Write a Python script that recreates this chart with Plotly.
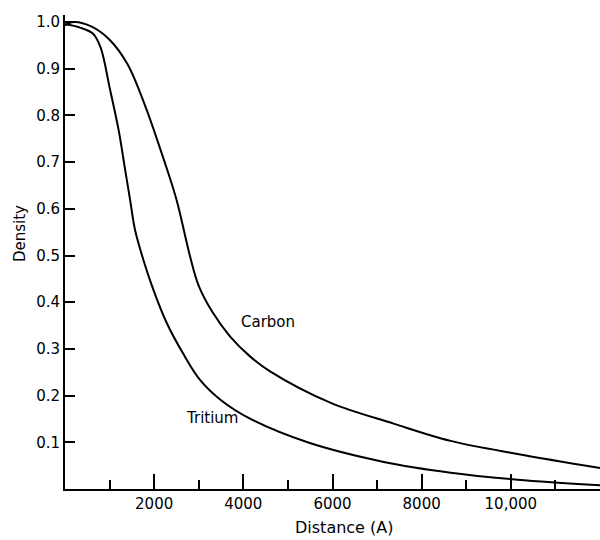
import plotly.graph_objects as go

# Data
carbon_x = [0, 200, 600, 1000, 1400, 1800, 2200, 2500, 2800, 3000, 3300, 3700, 4150, 4600,
            5950, 7370, 8650, 10150, 12000]
carbon_y = [0.993, 1.0, 0.99, 0.962, 0.91, 0.82, 0.71, 0.62, 0.50, 0.435, 0.38, 0.327, 0.284, 0.252,
            0.185, 0.14, 0.103, 0.075, 0.045]

tritium_x = [0, 340, 630, 800, 1000, 1200, 1350, 1460, 1570, 1760, 1985, 2285, 2650, 3033, 3500, 4160,
             5440, 7150, 8650, 10150, 12000]
tritium_y = [0.995, 0.988, 0.975, 0.945, 0.86, 0.77, 0.683, 0.619, 0.555, 0.49, 0.426, 0.355, 0.29, 0.233, 0.19, 0.15,
             0.1, 0.058, 0.035, 0.02, 0.008]

y_ticks = [0.1, 0.2, 0.3, 0.4, 0.5, 0.6, 0.7, 0.8, 0.9, 1.0]
y_labels = ["0.1", "0.2", "0.3", "0.4", "0.5", "0.6", "0.7", "0.8", "0.9", "1.0"]
x_major = [2000, 4000, 6000, 8000, 10000]
x_labels = ["2000", "4000", "6000", "8000", "10,000"]
x_minor = [1000, 3000, 5000, 7000, 9000, 11000]

FONT = "DejaVu Sans"
line = dict(color="black", width=2, shape="spline", smoothing=1.0)

fig = go.Figure()
fig.add_trace(go.Scatter(x=carbon_x, y=carbon_y, mode="lines", line=line, name="Carbon"))
fig.add_trace(go.Scatter(x=tritium_x, y=tritium_y, mode="lines", line=line, name="Tritium"))

fig.add_annotation(x=4560, y=0.357, text="Carbon", showarrow=False,
                   font=dict(family=FONT, size=15, color="black"))
fig.add_annotation(x=3300, y=0.152, text="Tritium", showarrow=False,
                   font=dict(family=FONT, size=15, color="black"))
fig.add_annotation(xref="paper", yref="paper", x=-0.084, y=0.538, text="Density",
                   xanchor="center", yanchor="middle",
                   textangle=-90, showarrow=False,
                   font=dict(family=FONT, size=15, color="black"))
fig.add_annotation(xref="paper", yref="paper", x=0.5215, y=-0.082, text="Distance (A)",
                   xanchor="center", yanchor="middle",
                   showarrow=False, font=dict(family=FONT, size=16, color="black"))

fig.update_layout(
    width=600, height=540,
    margin=dict(l=65, r=0, t=15, b=51),
    plot_bgcolor="white", paper_bgcolor="white",
    showlegend=False,
    font=dict(family=FONT, size=15, color="black"),
)
fig.update_xaxes(
    range=[0, 12000], showgrid=False, zeroline=False,
    showline=True, linecolor="black", linewidth=2,
    tickmode="array", tickvals=x_major, ticktext=x_labels,
    ticks="inside", ticklen=15, tickwidth=2, tickcolor="black",
    minor=dict(tickmode="array", tickvals=x_minor, ticks="inside", ticklen=9,
               tickwidth=2, tickcolor="black", showgrid=False),
    tickfont=dict(family=FONT, size=15, color="black"),
)
fig.update_yaxes(
    range=[0, 1.015], showgrid=False, zeroline=False,
    showline=True, linecolor="black", linewidth=2,
    tickmode="array", tickvals=y_ticks, ticktext=y_labels,
    ticks="inside", ticklen=10, tickwidth=2, tickcolor="black",
    tickfont=dict(family=FONT, size=15, color="black"),
)

fig.write_html("out.html")
